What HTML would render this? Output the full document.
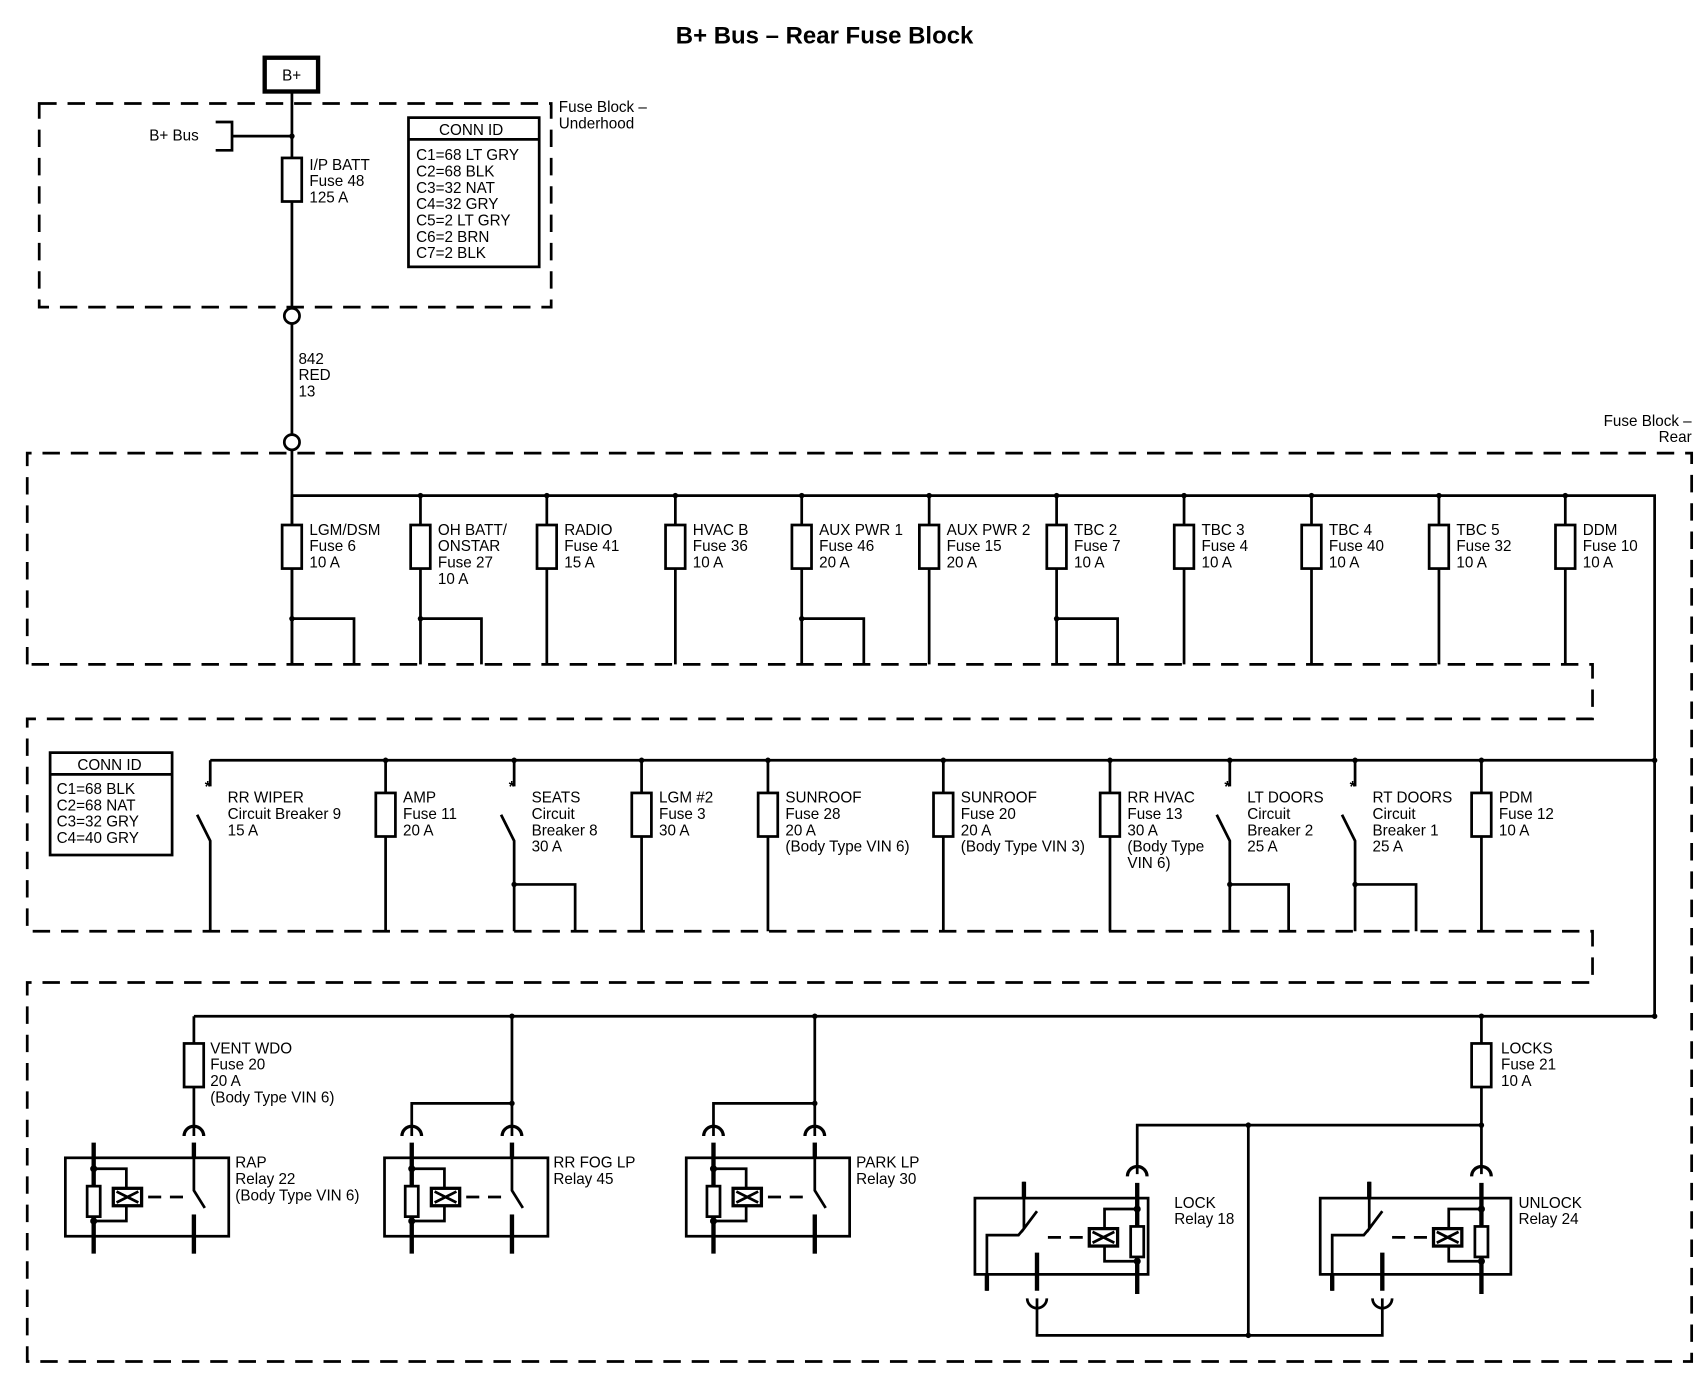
<!DOCTYPE html>
<html><head><meta charset="utf-8"><style>
html,body{margin:0;padding:0;background:#fff}
svg{display:block}
text{font-family:"Liberation Sans",sans-serif;font-size:14px;fill:#000}
</style></head><body>
<svg width="1708" height="1392" viewBox="0 0 1568 1278" preserveAspectRatio="none" xmlns="http://www.w3.org/2000/svg">
<defs>
<rect id="fz" x="-9" y="0" width="18" height="40" fill="#fff" stroke="#000" stroke-width="2.5"/>
<g id="coilR" stroke="#000" fill="none" stroke-width="2.5">
 <path d="M0 -14 V88" stroke-width="4"/>
 <rect x="-6" y="26" width="12" height="28" fill="#fff"/>
 <path d="M0 10 H30 V28 M30 44 V58 H0"/>
 <rect x="18" y="28" width="26" height="16" fill="#fff" stroke-width="3"/>
 <path d="M21 31 L41 41 M21 41 L41 31"/>
 <path d="M50 36 H90" stroke-dasharray="12 8"/>
 <circle cx="0" cy="10" r="2" fill="#000"/><circle cx="0" cy="58" r="2" fill="#000"/>
</g>
<g id="swR" stroke="#000" fill="none" stroke-width="2.5">
 <path d="M0 -14 V0" stroke-width="4"/>
 <path d="M0 0 V30 L10 46"/>
 <path d="M0 52 V88" stroke-width="4"/>
</g>
<path id="arcT" d="M-9 -20 A9 9 0 0 1 9 -20" stroke="#000" fill="none" stroke-width="3"/>
</defs>

<text x="757" y="40" text-anchor="middle" style="font-size:22px;font-weight:bold">B+ Bus – Rear Fuse Block</text>

<g stroke="#000" fill="none" stroke-width="2.5">
<rect x="243" y="53" width="49" height="31" stroke-width="4"/>
<path d="M268 84 V283 M268 297 V399 M268 413 V610"/>
<circle cx="268" cy="290" r="7" fill="#fff"/>
<circle cx="268" cy="406" r="7" fill="#fff"/>
<path d="M198 112 H213 V138 H198 M213 125 H268"/>
<g stroke-dasharray="16 10" stroke-width="2.5">
<rect x="36" y="95" width="470" height="187"/>
<path d="M25 610 V416 H1553 V1250 H25 V902 H1462 V855 H25 V660 H1462 V610 H25"/>
</g>
<rect x="375" y="108" width="120" height="137"/>
<path d="M375 128 H495"/>
<rect x="46" y="691" width="112" height="94"/>
<path d="M46 711 H158"/>
<path d="M268 455 H1519 V933 M193 698 H1519 M178 933 H1519"/>
</g>
<use href="#fz" x="268" y="145"/>
<circle cx="268" cy="125" r="2.5"/>
<text x="137" y="129">B+ Bus</text>
<text x="259" y="74">B+</text>
<text x="284" y="156">I/P BATT</text><text x="284" y="171">Fuse 48</text><text x="284" y="186">125 A</text>
<text x="403" y="124">CONN ID</text>
<text x="382" y="147">C1=68 LT GRY</text><text x="382" y="162">C2=68 BLK</text><text x="382" y="177">C3=32 NAT</text><text x="382" y="192">C4=32 GRY</text><text x="382" y="207">C5=2 LT GRY</text><text x="382" y="222">C6=2 BRN</text><text x="382" y="237">C7=2 BLK</text>
<text x="513" y="103">Fuse Block –</text><text x="513" y="118">Underhood</text>
<text x="274" y="334">842</text><text x="274" y="349">RED</text><text x="274" y="364">13</text>
<text x="1553" y="391" text-anchor="end">Fuse Block –</text><text x="1553" y="406" text-anchor="end">Rear</text>
<text x="71" y="707">CONN ID</text>
<text x="52" y="729">C1=68 BLK</text><text x="52" y="744">C2=68 NAT</text><text x="52" y="759">C3=32 GRY</text><text x="52" y="774">C4=40 GRY</text>

<!-- row 1 -->
<g stroke="#000" fill="none" stroke-width="2.5">
<path d="M268 455 V610 M386 455 V610 M502 455 V610 M620 455 V610 M736 455 V610 M853 455 V610 M970 455 V610 M1087 455 V610 M1204 455 V610 M1321 455 V610 M1437 455 V610"/>
<path d="M268 568 H325 V610 M386 568 H442 V610 M736 568 H793 V610 M970 568 H1026 V610"/>
</g>
<g>
<circle cx="386" cy="455" r="2.5"/><circle cx="502" cy="455" r="2.5"/><circle cx="620" cy="455" r="2.5"/><circle cx="736" cy="455" r="2.5"/><circle cx="853" cy="455" r="2.5"/><circle cx="970" cy="455" r="2.5"/><circle cx="1087" cy="455" r="2.5"/><circle cx="1204" cy="455" r="2.5"/><circle cx="1321" cy="455" r="2.5"/><circle cx="1437" cy="455" r="2.5"/>
<circle cx="268" cy="568" r="2.5"/><circle cx="386" cy="568" r="2.5"/><circle cx="736" cy="568" r="2.5"/><circle cx="970" cy="568" r="2.5"/>
</g>
<use href="#fz" x="268" y="482"/><use href="#fz" x="386" y="482"/><use href="#fz" x="502" y="482"/><use href="#fz" x="620" y="482"/><use href="#fz" x="736" y="482"/><use href="#fz" x="853" y="482"/><use href="#fz" x="970" y="482"/><use href="#fz" x="1087" y="482"/><use href="#fz" x="1204" y="482"/><use href="#fz" x="1321" y="482"/><use href="#fz" x="1437" y="482"/>
<text x="284" y="491">LGM/DSM</text><text x="284" y="506">Fuse 6</text><text x="284" y="521">10 A</text>
<text x="402" y="491">OH BATT/</text><text x="402" y="506">ONSTAR</text><text x="402" y="521">Fuse 27</text><text x="402" y="536">10 A</text>
<text x="518" y="491">RADIO</text><text x="518" y="506">Fuse 41</text><text x="518" y="521">15 A</text>
<text x="636" y="491">HVAC B</text><text x="636" y="506">Fuse 36</text><text x="636" y="521">10 A</text>
<text x="752" y="491">AUX PWR 1</text><text x="752" y="506">Fuse 46</text><text x="752" y="521">20 A</text>
<text x="869" y="491">AUX PWR 2</text><text x="869" y="506">Fuse 15</text><text x="869" y="521">20 A</text>
<text x="986" y="491">TBC 2</text><text x="986" y="506">Fuse 7</text><text x="986" y="521">10 A</text>
<text x="1103" y="491">TBC 3</text><text x="1103" y="506">Fuse 4</text><text x="1103" y="521">10 A</text>
<text x="1220" y="491">TBC 4</text><text x="1220" y="506">Fuse 40</text><text x="1220" y="521">10 A</text>
<text x="1337" y="491">TBC 5</text><text x="1337" y="506">Fuse 32</text><text x="1337" y="521">10 A</text>
<text x="1453" y="491">DDM</text><text x="1453" y="506">Fuse 10</text><text x="1453" y="521">10 A</text>

<!-- row 2 -->
<g stroke="#000" fill="none" stroke-width="2.5">
<path d="M193 698 V722 M181 748 L193 772 V855"/>
<path d="M354 698 V855 M589 698 V855 M705 698 V855 M866 698 V855 M1019 698 V855 M1360 698 V855"/>
<path d="M472 698 V722 M460 748 L472 772 V855 M472 812 H528 V855"/>
<path d="M1129 698 V722 M1117 748 L1129 772 V855 M1129 812 H1183 V855"/>
<path d="M1244 698 V722 M1232 748 L1244 772 V855 M1244 812 H1300 V855"/>
</g>
<g style="font-size:16px;font-weight:bold">
<text x="188" y="727">*</text><text x="467" y="727">*</text><text x="1124" y="727">*</text><text x="1239" y="727">*</text>
</g>
<circle cx="354" cy="698" r="2.5"/><circle cx="472" cy="698" r="2.5"/><circle cx="589" cy="698" r="2.5"/><circle cx="705" cy="698" r="2.5"/><circle cx="866" cy="698" r="2.5"/><circle cx="1019" cy="698" r="2.5"/><circle cx="1129" cy="698" r="2.5"/><circle cx="1244" cy="698" r="2.5"/><circle cx="1360" cy="698" r="2.5"/><circle cx="1519" cy="698" r="2.5"/>
<circle cx="472" cy="812" r="2.5"/><circle cx="1129" cy="812" r="2.5"/><circle cx="1244" cy="812" r="2.5"/>
<use href="#fz" x="354" y="728"/><use href="#fz" x="589" y="728"/><use href="#fz" x="705" y="728"/><use href="#fz" x="866" y="728"/><use href="#fz" x="1019" y="728"/><use href="#fz" x="1360" y="728"/>
<text x="209" y="737">RR WIPER</text><text x="209" y="752">Circuit Breaker 9</text><text x="209" y="767">15 A</text>
<text x="370" y="737">AMP</text><text x="370" y="752">Fuse 11</text><text x="370" y="767">20 A</text>
<text x="488" y="737">SEATS</text><text x="488" y="752">Circuit</text><text x="488" y="767">Breaker 8</text><text x="488" y="782">30 A</text>
<text x="605" y="737">LGM #2</text><text x="605" y="752">Fuse 3</text><text x="605" y="767">30 A</text>
<text x="721" y="737">SUNROOF</text><text x="721" y="752">Fuse 28</text><text x="721" y="767">20 A</text><text x="721" y="782">(Body Type VIN 6)</text>
<text x="882" y="737">SUNROOF</text><text x="882" y="752">Fuse 20</text><text x="882" y="767">20 A</text><text x="882" y="782">(Body Type VIN 3)</text>
<text x="1035" y="737">RR HVAC</text><text x="1035" y="752">Fuse 13</text><text x="1035" y="767">30 A</text><text x="1035" y="782">(Body Type</text><text x="1035" y="797">VIN 6)</text>
<text x="1145" y="737">LT DOORS</text><text x="1145" y="752">Circuit</text><text x="1145" y="767">Breaker 2</text><text x="1145" y="782">25 A</text>
<text x="1260" y="737">RT DOORS</text><text x="1260" y="752">Circuit</text><text x="1260" y="767">Breaker 1</text><text x="1260" y="782">25 A</text>
<text x="1376" y="737">PDM</text><text x="1376" y="752">Fuse 12</text><text x="1376" y="767">10 A</text>

<!-- row 3 -->
<g stroke="#000" fill="none" stroke-width="2.5">
<path d="M178 933 V1043 M470 933 V1043 M748 933 V1043 M1360 933 V1078"/>
<path d="M378 1043 V1013 H470 M655 1043 V1013 H748"/>
<path d="M1044 1078 V1033 H1360 M1146 1033 V1226 M952 1192 V1226 H1269 V1192"/>
<rect x="60" y="1063" width="150" height="72"/>
<rect x="353" y="1063" width="150" height="72"/>
<rect x="630" y="1063" width="150" height="72"/>
<rect x="895" y="1100" width="159" height="70"/>
<rect x="1212" y="1100" width="175" height="70"/>
</g>
<circle cx="470" cy="933" r="2.5"/><circle cx="748" cy="933" r="2.5"/><circle cx="1360" cy="933" r="2.5"/><circle cx="1519" cy="933" r="2.5"/>
<circle cx="470" cy="1013" r="2.5"/><circle cx="748" cy="1013" r="2.5"/><circle cx="1146" cy="1033" r="2.5"/><circle cx="1360" cy="1033" r="2.5"/><circle cx="1146" cy="1226" r="2.5"/>
<use href="#fz" x="178" y="958"/><use href="#fz" x="1360" y="958"/>

<!-- left relays -->
<use href="#coilR" x="86" y="1063"/><use href="#swR" x="178" y="1063"/><use href="#arcT" x="178" y="1063"/>
<use href="#coilR" x="378" y="1063"/><use href="#swR" x="470" y="1063"/><use href="#arcT" x="470" y="1063"/><use href="#arcT" x="378" y="1063"/>
<use href="#coilR" x="655" y="1063"/><use href="#swR" x="748" y="1063"/><use href="#arcT" x="748" y="1063"/><use href="#arcT" x="655" y="1063"/>
<!-- right relays (mirrored) -->
<g transform="translate(1044 1100) scale(-1 1)"><use href="#coilR"/><use href="#arcT"/></g>
<g transform="translate(1360 1100) scale(-1 1)"><use href="#coilR"/><use href="#arcT"/></g>
<g stroke="#000" fill="none" stroke-width="2.5">
<path d="M940 1085 V1128 L952 1112 M940 1128 L935 1134 H906 V1185"/>
<path d="M940 1085 V1100 M952 1150 V1185 M906 1170 V1185" stroke-width="4"/>
<path d="M943 1192 A9 9 0 0 0 961 1192"/>
<path d="M1257 1085 V1128 L1269 1112 M1257 1128 L1252 1134 H1223 V1185"/>
<path d="M1257 1085 V1100 M1269 1150 V1185 M1223 1170 V1185" stroke-width="4"/>
<path d="M1260 1192 A9 9 0 0 0 1278 1192"/>
</g>

<text x="193" y="967">VENT WDO</text><text x="193" y="982">Fuse 20</text><text x="193" y="997">20 A</text><text x="193" y="1012">(Body Type VIN 6)</text>
<text x="1378" y="967">LOCKS</text><text x="1378" y="982">Fuse 21</text><text x="1378" y="997">10 A</text>
<text x="216" y="1072">RAP</text><text x="216" y="1087">Relay 22</text><text x="216" y="1102">(Body Type VIN 6)</text>
<text x="508" y="1072">RR FOG LP</text><text x="508" y="1087">Relay 45</text>
<text x="786" y="1072">PARK LP</text><text x="786" y="1087">Relay 30</text>
<text x="1078" y="1109">LOCK</text><text x="1078" y="1124">Relay 18</text>
<text x="1394" y="1109">UNLOCK</text><text x="1394" y="1124">Relay 24</text>
</svg>
</body></html>
